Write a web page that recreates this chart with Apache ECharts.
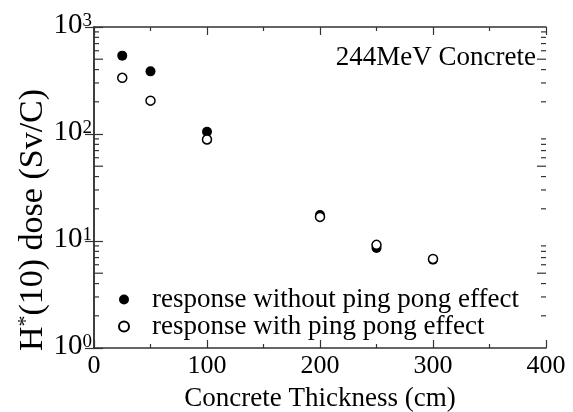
<!DOCTYPE html>
<html>
<head>
<meta charset="utf-8">
<script src="https://cdn.jsdelivr.net/npm/echarts@6/dist/echarts.min.js"></script>
<style>
html,body{margin:0;padding:0;background:#fff;}
#chart{width:573px;height:412px;}
</style>
</head>
<body>
<div id="chart"></div>
<script>
// Data
var thickness = [25, 50, 100, 200, 250, 300];
var withoutPingPong = [540, 385, 105, 17.5, 8.6, 6.7];
var withPingPong = [335, 205, 89, 16.8, 9.2, 6.8];
var seriesNames = ['response without ping pong effect', 'response with ping pong effect'];
var xTicks = [0, 100, 200, 300, 400];
var yDecades = [1, 10, 100, 1000];
var minorMultipliers = [2, 3, 4, 5, 6, 7, 8, 9];

var FONT = 'Liberation Serif';
var AXIS_COLOR = '#333';

var minorYTicks = [];
for (var d = 0; d < yDecades.length - 1; d++) {
  for (var m = 0; m < minorMultipliers.length; m++) {
    minorYTicks.push([0, yDecades[d] * minorMultipliers[m], minorMultipliers[m]]);
  }
}

var chart = echarts.init(document.getElementById('chart'), null, {renderer: 'canvas'});

var option = {
  backgroundColor: '#fff',
  animation: false,
  textStyle: {fontFamily: FONT},
  grid: {left: 94, right: 27, top: 27, bottom: 64, containLabel: false, outerBoundsMode: 'none'},
  legend: {
    orient: 'vertical',
    left: 118,
    top: 286,
    padding: 0,
    itemGap: 0,
    itemWidth: 10,
    itemHeight: 10,
    data: seriesNames,
    textStyle: {fontFamily: FONT, fontSize: 27, color: '#000', lineHeight: 27, padding: [0, 0, 0, 18]}
  },
  xAxis: [{
    type: 'value',
    min: 0, max: 400, interval: 100,
    position: 'bottom',
    name: 'Concrete Thickness (cm)',
    nameLocation: 'middle',
    nameGap: 37,
    nameTextStyle: {fontFamily: FONT, fontSize: 27, color: '#000'},
    axisLine: {show: true, lineStyle: {color: AXIS_COLOR, width: 1.5}},
    axisTick: {show: true, inside: true, length: 8, lineStyle: {color: AXIS_COLOR, width: 1.2}},
    minorTick: {show: true, splitNumber: 2, length: 4, lineStyle: {color: AXIS_COLOR, width: 1.2}},
    axisLabel: {fontFamily: FONT, fontSize: 26, color: '#000', margin: 5},
    splitLine: {show: false}
  }, {
    type: 'value',
    min: 0, max: 400, interval: 100,
    position: 'top',
    axisLine: {show: true, lineStyle: {color: AXIS_COLOR, width: 1.5}},
    axisTick: {show: true, inside: true, length: 8, lineStyle: {color: AXIS_COLOR, width: 1.2}},
    minorTick: {show: true, splitNumber: 2, length: 4, lineStyle: {color: AXIS_COLOR, width: 1.2}},
    axisLabel: {show: false},
    splitLine: {show: false}
  }],
  yAxis: [{
    type: 'log',
    logBase: 10,
    min: 1, max: 1000,
    position: 'left',
    axisLine: {show: true, lineStyle: {color: AXIS_COLOR, width: 1.5}},
    axisTick: {show: true, inside: true, length: 9, lineStyle: {color: AXIS_COLOR, width: 1.2}},
    axisLabel: {
      margin: 2,
      formatter: function (v) {
        return '{b|10}{e|' + Math.round(Math.log10(v)) + '}';
      },
      rich: {
        b: {fontFamily: FONT, fontSize: 29, color: '#000', lineHeight: 30, padding: [0, 0, 3, 0]},
        e: {fontFamily: FONT, fontSize: 19, color: '#000', verticalAlign: 'top', lineHeight: 19, padding: [0, 0, 14, 0]}
      }
    },
    splitLine: {show: false}
  }, {
    type: 'log',
    logBase: 10,
    min: 1, max: 1000,
    position: 'right',
    axisLine: {show: true, lineStyle: {color: AXIS_COLOR, width: 1.5}},
    axisTick: {show: true, inside: true, length: 9, lineStyle: {color: AXIS_COLOR, width: 1.2}},
    axisLabel: {show: false},
    splitLine: {show: false}
  }],
  graphic: [{
    type: 'text',
    x: 536, y: 58,
    style: {text: '244MeV Concrete', fontFamily: FONT, fontSize: 27, fill: '#000', align: 'right', verticalAlign: 'middle'}
  }, {
    type: 'text',
    x: 33, y: 220,
    rotation: Math.PI / 2,
    style: {
      text: '{a|H}{s|*}{a|(10) dose (Sv/C)}',
      fontFamily: FONT,
      align: 'center', verticalAlign: 'middle',
      rich: {
        a: {fontFamily: FONT, fontSize: 34, fill: '#000', lineHeight: 36},
        s: {fontFamily: FONT, fontSize: 22, fill: '#000', verticalAlign: 'top', lineHeight: 22, padding: [0, 0, 16, 0]}
      }
    }
  }],
  series: [{
    name: seriesNames[0],
    type: 'scatter',
    xAxisIndex: 0, yAxisIndex: 0,
    symbol: 'circle',
    symbolSize: 10,
    itemStyle: {color: '#000', borderColor: '#000', borderWidth: 0, opacity: 1},
    data: thickness.map(function (x, i) { return [x, withoutPingPong[i]]; }),
    z: 3
  }, {
    name: seriesNames[1],
    type: 'scatter',
    xAxisIndex: 0, yAxisIndex: 0,
    symbol: 'circle',
    symbolSize: 9,
    itemStyle: {color: '#fff', borderColor: '#000', borderWidth: 1.5, opacity: 1},
    data: thickness.map(function (x, i) { return [x, withPingPong[i]]; }),
    z: 4
  }, {
    name: 'minorTicks',
    type: 'custom',
    xAxisIndex: 0, yAxisIndex: 0,
    silent: true,
    legendHoverLink: false,
    data: minorYTicks,
    renderItem: function (params, api) {
      var v = api.value(1);
      var mult = api.value(2);
      var pL = api.coord([0, v]);
      var pR = api.coord([400, v]);
      var len = mult === 5 ? 9 : 5;
      var st = {stroke: AXIS_COLOR, lineWidth: 1.2};
      return {
        type: 'group',
        children: [
          {type: 'line', shape: {x1: pL[0], y1: pL[1], x2: pL[0] + len, y2: pL[1]}, style: st},
          {type: 'line', shape: {x1: pR[0], y1: pR[1], x2: pR[0] - len, y2: pR[1]}, style: st}
        ]
      };
    },
    z: 2
  }]
};

chart.setOption(option);
</script>
</body>
</html>
